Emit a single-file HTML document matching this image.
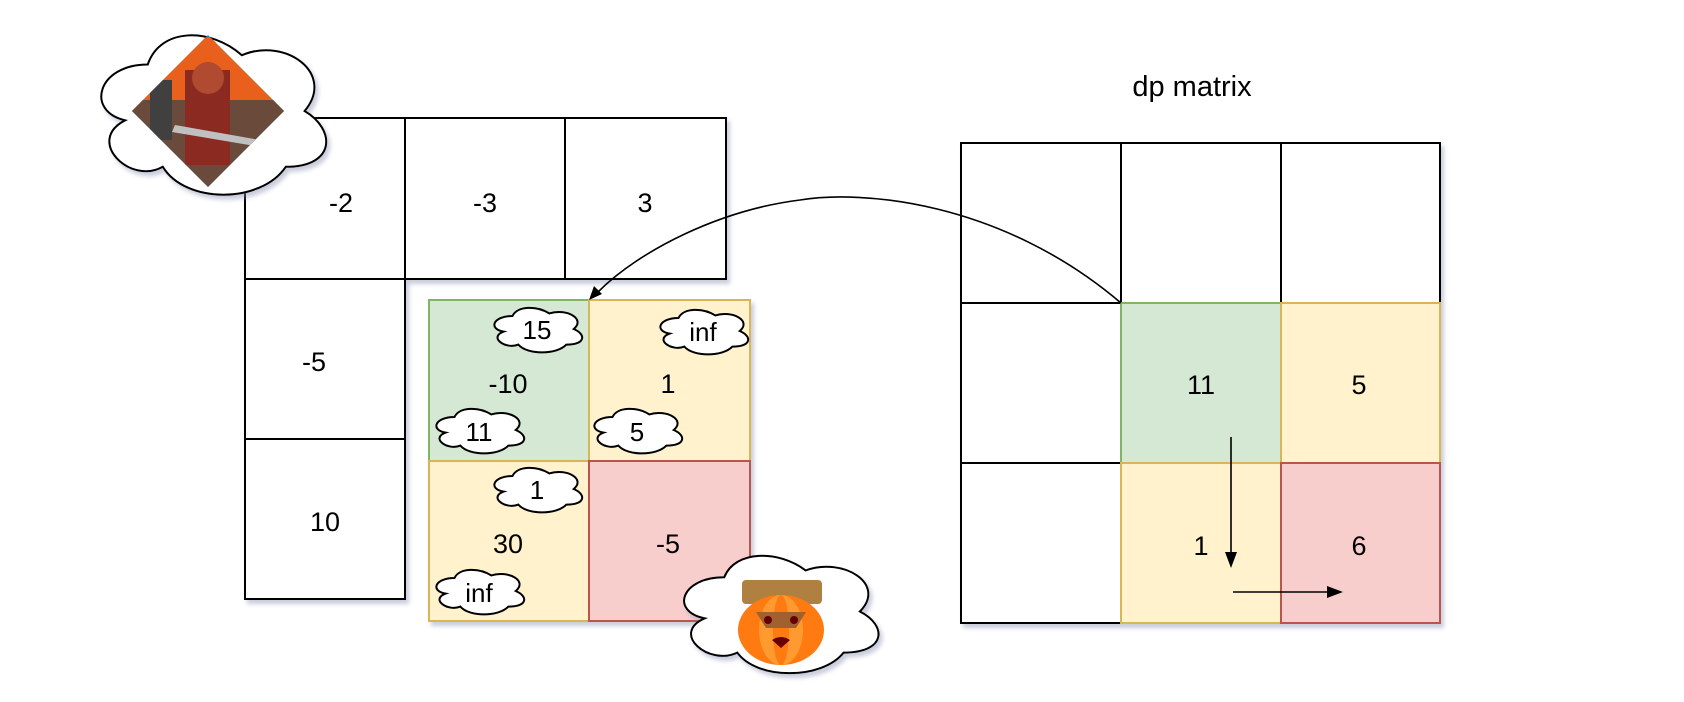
<!DOCTYPE html>
<html><head><meta charset="utf-8"><style>
html,body{margin:0;padding:0;background:#fff;}
svg{display:block;}
text{font-family:"Liberation Sans","DejaVu Sans",sans-serif;fill:#000;}
</style></head><body>
<svg width="1684" height="702" viewBox="0 0 1684 702" xmlns="http://www.w3.org/2000/svg">
<defs>
<filter id="sh" x="-10%" y="-10%" width="130%" height="130%">
<feDropShadow dx="3" dy="4" stdDeviation="2" flood-color="#8890b0" flood-opacity="0.45"/>
</filter>
<path id="cl" vector-effect="non-scaling-stroke" d="M0.25,0.25 C0.05,0.25 0,0.5 0.16,0.55 C0,0.66 0.18,0.9 0.31,0.8 C0.4,1 0.7,1 0.8,0.8 C1,0.8 1,0.6 0.875,0.5 C1,0.3 0.8,0.1 0.625,0.2 C0.5,0.05 0.3,0.05 0.25,0.25 Z"/>
<clipPath id="dia"><polygon points="208,35 284,111 208,187 132,111"/></clipPath>
</defs>

<!-- left input grid -->
<g filter="url(#sh)" fill="#fff" stroke="#000" stroke-width="2">
<rect x="245" y="118" width="160" height="161"/>
<rect x="405" y="118" width="160" height="161"/>
<rect x="565" y="118" width="161" height="161"/>
<rect x="245" y="279" width="160" height="160"/>
<rect x="245" y="439" width="160" height="160"/>
</g>
<g font-size="27" text-anchor="middle">
<text x="341" y="212">-2</text>
<text x="485" y="212">-3</text>
<text x="645" y="212">3</text>
<text x="314" y="371">-5</text>
<text x="325" y="531">10</text>
</g>

<!-- colored grid -->
<g filter="url(#sh)" stroke-width="2">
<rect x="429" y="300" width="160" height="161" fill="#d5e8d4" stroke="#82b366"/>
<rect x="589" y="300" width="161" height="161" fill="#fff2cc" stroke="#d6b656"/>
<rect x="429" y="461" width="160" height="160" fill="#fff2cc" stroke="#d6b656"/>
<rect x="589" y="461" width="161" height="160" fill="#f8cecc" stroke="#b85450"/>
</g>
<g font-size="27" text-anchor="middle">
<text x="508" y="393">-10</text>
<text x="668" y="393">1</text>
<text x="508" y="553">30</text>
<text x="668" y="553">-5</text>
</g>

<!-- small clouds -->
<g fill="#fff" stroke="#000" stroke-width="2">
<use href="#cl" transform="translate(488,303) scale(98,52)"/>
<use href="#cl" transform="translate(654,305) scale(98,52)"/>
<use href="#cl" transform="translate(430,404) scale(98,52)"/>
<use href="#cl" transform="translate(588,404) scale(98,52)"/>
<use href="#cl" transform="translate(488,463) scale(98,52)"/>
<use href="#cl" transform="translate(430,565) scale(98,52)"/>
</g>
<g font-size="26" text-anchor="middle">
<text x="537" y="339">15</text>
<text x="703" y="341">inf</text>
<text x="479" y="441">11</text>
<text x="637" y="441">5</text>
<text x="537" y="499">1</text>
<text x="479" y="602">inf</text>
</g>

<!-- knight cloud -->
<g filter="url(#sh)"><use href="#cl" transform="translate(85,18) scale(251,186)" fill="#fff" stroke="#000" stroke-width="2"/></g>
<polygon points="208,35 284,111 208,187 132,111" fill="#2a8fb0"/>
<g clip-path="url(#dia)">
<rect x="130" y="38" width="160" height="80" fill="#e8601c"/>
<rect x="130" y="100" width="160" height="90" fill="#6a4a3a"/>
<rect x="185" y="70" width="45" height="95" fill="#8a2a20"/>
<circle cx="208" cy="78" r="16" fill="#b04a30"/>
<rect x="150" y="80" width="22" height="60" fill="#404040"/>
<polygon points="175,125 260,140 255,146 172,132" fill="#c0c0c0"/>
</g>

<!-- pumpkin cloud -->
<g filter="url(#sh)"><use href="#cl" transform="translate(670,543) scale(217,137)" fill="#fff" stroke="#000" stroke-width="2"/></g>
<rect x="742" y="580" width="80" height="24" fill="#b08040" rx="4"/>
<ellipse cx="781" cy="630" rx="43" ry="35" fill="#ff7a10"/>
<ellipse cx="781" cy="630" rx="22" ry="35" fill="#ff9a30"/>
<ellipse cx="781" cy="630" rx="8" ry="35" fill="#ff7a10"/>
<polygon points="756,612 806,612 796,628 766,628" fill="#a06030"/>
<circle cx="768" cy="620" r="4" fill="#600"/><circle cx="794" cy="620" r="4" fill="#600"/>
<path d="M772,640 Q781,634 790,640 L781,648 Z" fill="#600"/>

<!-- dp matrix -->
<text x="1192" y="96" font-size="29" text-anchor="middle">dp matrix</text>
<g filter="url(#sh)" stroke-width="2">
<rect x="961" y="143" width="160" height="160" fill="#fff" stroke="#000"/>
<rect x="1121" y="143" width="160" height="160" fill="#fff" stroke="#000"/>
<rect x="1281" y="143" width="159" height="160" fill="#fff" stroke="#000"/>
<rect x="961" y="303" width="160" height="160" fill="#fff" stroke="#000"/>
<rect x="961" y="463" width="160" height="160" fill="#fff" stroke="#000"/>
<rect x="1121" y="303" width="160" height="160" fill="#d5e8d4" stroke="#82b366"/>
<rect x="1281" y="303" width="159" height="160" fill="#fff2cc" stroke="#d6b656"/>
<rect x="1121" y="463" width="160" height="160" fill="#fff2cc" stroke="#d6b656"/>
<rect x="1281" y="463" width="159" height="160" fill="#f8cecc" stroke="#b85450"/>
</g>
<g font-size="27" text-anchor="middle">
<text x="1201" y="394">11</text>
<text x="1359" y="394">5</text>
<text x="1201" y="555">1</text>
<text x="1359" y="555">6</text>
</g>

<!-- arrows -->
<g stroke="#000" stroke-width="1.6" fill="none">
<path d="M1121,303 C1000,200 860,190 800,200 C720,210 640,250 598,292"/>
<line x1="1231" y1="437" x2="1231" y2="560"/>
<line x1="1233" y1="592" x2="1335" y2="592"/>
</g>
<polygon points="589,300 594,286 602,294" fill="#000"/>
<polygon points="1231,568 1225,552 1237,552" fill="#000"/>
<polygon points="1343,592 1327,586 1327,598" fill="#000"/>
</svg>
</body></html>
